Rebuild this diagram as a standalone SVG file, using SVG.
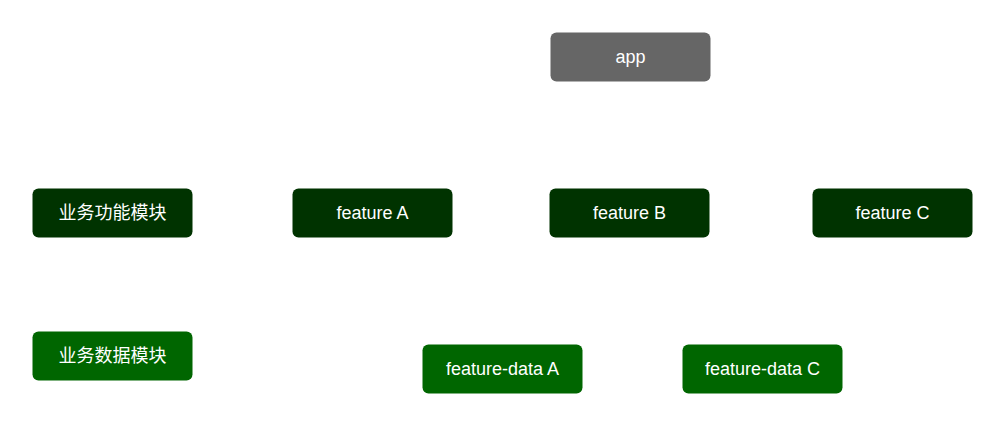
<svg xmlns="http://www.w3.org/2000/svg" width="1004" height="426" viewBox="0 0 1004 426">
<defs>
<style>
.n rect{stroke:none}
.app rect{fill:#666666}
.f rect{fill:#003300}
.d rect{fill:#006600}
.n text{fill:#ffffff;font-family:"Liberation Sans","Noto Sans CJK SC",Arial,sans-serif;font-size:18px;text-anchor:middle;dominant-baseline:central}
.e{stroke:#ffffff;stroke-width:1.5;fill:none}
</style>
<marker id="ah" viewBox="0 0 10 10" refX="10" refY="5" markerWidth="8" markerHeight="8" orient="auto"><path d="M0,0L10,5L0,10z" fill="#ffffff"/></marker>
</defs>
<rect width="1004" height="426" fill="#ffffff"/>
<g id="connectors">
<path class="e" d="M610,82L380,188" marker-end="url(#ah)"/>
<path class="e" d="M630,82L630,188" marker-end="url(#ah)"/>
<path class="e" d="M650,82L892,188" marker-end="url(#ah)"/>
<path class="e" d="M372,239L502,344" marker-end="url(#ah)"/>
<path class="e" d="M892,239L762,344" marker-end="url(#ah)"/>
</g>
<g id="app" class="n app"><rect x="550.5" y="32.5" width="160" height="49" rx="6"/><text x="630.5" y="57">app</text></g>
<g id="biz-feature" class="n f"><rect x="32.5" y="188.5" width="160" height="49" rx="6"/><text x="112.5" y="213">业务功能模块</text></g>
<g id="featureA" class="n f"><rect x="292.5" y="188.5" width="160" height="49" rx="6"/><text x="372.5" y="213">feature A</text></g>
<g id="featureB" class="n f"><rect x="549.5" y="188.5" width="160" height="49" rx="6"/><text x="629.5" y="213">feature B</text></g>
<g id="featureC" class="n f"><rect x="812.5" y="188.5" width="160" height="49" rx="6"/><text x="892.5" y="213">feature C</text></g>
<g id="biz-data" class="n d"><rect x="32.5" y="331.5" width="160" height="49" rx="6"/><text x="112.5" y="356">业务数据模块</text></g>
<g id="featureDataA" class="n d"><rect x="422.5" y="344.5" width="160" height="49" rx="6"/><text x="502.5" y="369">feature-data A</text></g>
<g id="featureDataC" class="n d"><rect x="682.5" y="344.5" width="160" height="49" rx="6"/><text x="762.5" y="369">feature-data C</text></g>
</svg>
